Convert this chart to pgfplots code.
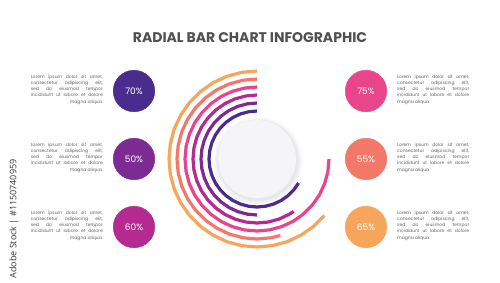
\documentclass[border=0pt]{standalone}
\usepackage{pgfplots}
\pgfplotsset{compat=1.18}
\usepackage{fontspec}
\setmainfont{Poppins}
\newfontfamily\wmfont{Open Sans}
\definecolor{c1}{HTML}{4A2C8E}
\definecolor{c2}{HTML}{7E2A93}
\definecolor{c3}{HTML}{B52A90}
\definecolor{c4}{HTML}{E8458A}
\definecolor{c5}{HTML}{F2796A}
\definecolor{c6}{HTML}{F5A65B}
\definecolor{txt}{HTML}{646464}
\definecolor{ttl}{HTML}{505050}
\definecolor{disc}{HTML}{F5F5F7}
\newcommand{\lorem}[1]{%
  \fontsize{4.5}{6.25}\selectfont
  \parbox{72pt}{%
  \makebox[72pt][s]{Lorem ipsum dolor sit amet,}\\
  \makebox[72pt][s]{consectetur adipiscing elit,}\\
  \makebox[72pt][s]{sed do eiusmod tempor}\\
  \makebox[72pt][s]{incididunt ut labore et dolore}\\
  \makebox[72pt][#1]{magna aliqua.}}}
\newcommand{\pctfont}{\fontsize{9}{10}\selectfont}
\begin{document}
\begin{tikzpicture}
\begin{axis}[at={(0,0)}, anchor=south west, scale only axis,
  width=500pt, height=282pt, xmin=0, xmax=500, ymin=0, ymax=282,
  hide axis, clip=false]
  \fill[white] (axis cs:0,0) rectangle (axis cs:500,282);
  \coordinate (BL) at (axis cs:0,0);
  \coordinate (TR) at (axis cs:500,282);
  \coordinate (C) at (axis cs:257,123);
  \coordinate (P1) at (axis cs:134,191);
  \coordinate (P2) at (axis cs:134,123);
  \coordinate (P3) at (axis cs:134,55);
  \coordinate (P4) at (axis cs:366,191);
  \coordinate (P5) at (axis cs:366,123);
  \coordinate (P6) at (axis cs:366,55);
  % title
  \node[font=\fontsize{14}{16}\selectfont\bfseries, text=ttl] at (axis cs:250,244) {RADIAL BAR CHART INFOGRAPHIC};
  % value badges
  \addplot[only marks, mark=*, mark size=20.8pt, color=c1, mark options={draw=c1, fill=c1}] coordinates {(134,191)};
  \addplot[only marks, mark=*, mark size=20.8pt, color=c2, mark options={draw=c2, fill=c2}] coordinates {(134,123)};
  \addplot[only marks, mark=*, mark size=20.8pt, color=c3, mark options={draw=c3, fill=c3}] coordinates {(134,55)};
  \addplot[only marks, mark=*, mark size=20.8pt, color=c4, mark options={draw=c4, fill=c4}] coordinates {(366,191)};
  \addplot[only marks, mark=*, mark size=20.8pt, color=c5, mark options={draw=c5, fill=c5}] coordinates {(366,123)};
  \addplot[only marks, mark=*, mark size=20.8pt, color=c6, mark options={draw=c6, fill=c6}] coordinates {(366,55)};
  % text blocks
  \node[anchor=north east, inner sep=0, text=txt] at (axis cs:103,207.5) {\lorem{r}};
  \node[anchor=north east, inner sep=0, text=txt] at (axis cs:103,139.5) {\lorem{r}};
  \node[anchor=north east, inner sep=0, text=txt] at (axis cs:103,71.5) {\lorem{r}};
  \node[anchor=north west, inner sep=0, text=txt] at (axis cs:397,207.5) {\lorem{l}};
  \node[anchor=north west, inner sep=0, text=txt] at (axis cs:397,139.5) {\lorem{l}};
  \node[anchor=north west, inner sep=0, text=txt] at (axis cs:397,71.5) {\lorem{l}};
  % watermark id
  \node[rotate=90, font=\wmfont\fontsize{9}{10}\selectfont, text=black!78, anchor=center] at (axis cs:14,63) {Adobe Stock | \#1150740959};
  % central disc with soft shadow
  \fill[black, opacity=0.015] (axis cs:258,120.5) circle[radius=45pt];
  \fill[black, opacity=0.02] (axis cs:258,120.5) circle[radius=43.5pt];
  \fill[black, opacity=0.025] (axis cs:258,121) circle[radius=42pt];
  \fill[black, opacity=0.03] (axis cs:258,121.5) circle[radius=40.5pt];
  \fill[disc] (axis cs:257,123) circle[radius=39pt];
\end{axis}
\begin{axis}[at={(C)}, anchor=center, scale only axis,
  width=200pt, height=200pt, xmin=-100, xmax=100, ymin=-100, ymax=100,
  hide axis, clip=false]
  \addplot[data cs=polar, line width=3.2pt, color=c1, line cap=butt] coordinates {
    (90,48) (100,48) (110,48) (120,48) (130,48) (140,48) (150,48) (160,48) (170,48) (180,48) (190,48) (200,48) (210,48) (220,48) (230,48) (240,48) (250,48) (260,48) (270,48) (280,48) (290,48) (300,48) (310,48) (320,48) (330,48)};
  \addplot[data cs=polar, line width=3.2pt, color=c2, line cap=butt] coordinates {
    (90,56) (100,56) (110,56) (120,56) (130,56) (140,56) (150,56) (160,56) (170,56) (180,56) (190,56) (200,56) (210,56) (220,56) (230,56) (240,56) (250,56) (260,56) (270,56)};
  \addplot[data cs=polar, line width=3.2pt, color=c3, line cap=butt] coordinates {
    (90,64) (100,64) (110,64) (120,64) (130,64) (140,64) (150,64) (160,64) (170,64) (180,64) (190,64) (200,64) (210,64) (220,64) (230,64) (240,64) (250,64) (260,64) (270,64) (280,64) (290,64) (300,64) (305,64)};
  \addplot[data cs=polar, line width=3.2pt, color=c4, line cap=butt] coordinates {
    (90,72) (100,72) (110,72) (120,72) (130,72) (140,72) (150,72) (160,72) (170,72) (180,72) (190,72) (200,72) (210,72) (220,72) (230,72) (240,72) (250,72) (260,72) (270,72) (280,72) (290,72) (300,72) (310,72) (320,72) (330,72) (340,72) (350,72) (360,72)};
  \addplot[data cs=polar, line width=3.2pt, color=c5, line cap=butt] coordinates {
    (90,80) (100,80) (110,80) (120,80) (130,80) (140,80) (150,80) (160,80) (170,80) (180,80) (190,80) (200,80) (210,80) (220,80) (230,80) (240,80) (250,80) (260,80) (270,80) (280,80) (287,80)};
  \addplot[data cs=polar, line width=3.2pt, color=c6, line cap=butt] coordinates {
    (90,88) (100,88) (110,88) (120,88) (130,88) (140,88) (150,88) (160,88) (170,88) (180,88) (190,88) (200,88) (210,88) (220,88) (230,88) (240,88) (250,88) (260,88) (270,88) (280,88) (290,88) (300,88) (310,88) (320,88)};
\end{axis}
\node[font=\pctfont, text=white] at (P1) {70\%};
\node[font=\pctfont, text=white] at (P2) {50\%};
\node[font=\pctfont, text=white] at (P3) {60\%};
\node[font=\pctfont, text=white] at (P4) {75\%};
\node[font=\pctfont, text=white] at (P5) {55\%};
\node[font=\pctfont, text=white] at (P6) {65\%};
\pgfresetboundingbox
\useasboundingbox (BL) rectangle (TR);
\end{tikzpicture}
\end{document}
